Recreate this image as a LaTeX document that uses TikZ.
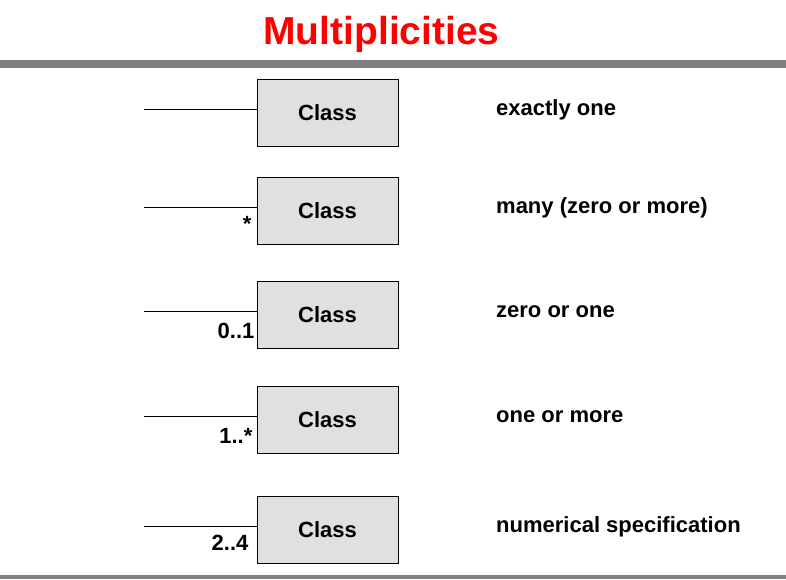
\documentclass[tikz,border=0pt]{standalone}
\usepackage{xcolor}
\usepackage{fontspec}
\setmainfont{Liberation Sans}
\usepackage{tikz}
\usetikzlibrary{positioning,calc}
\definecolor{TitleRed}{HTML}{FF0000}
\definecolor{RuleGray}{HTML}{808080}
\definecolor{ClassFill}{HTML}{DFE0DF}

\tikzset{
  classbox/.style={draw=black, line width=0.8pt, fill=ClassFill,
    minimum width=141pt, minimum height=67pt, inner sep=0pt,
    font=\fontsize{22}{26}\selectfont\bfseries},
  multlabel/.style={anchor=base east, inner sep=0pt,
    font=\fontsize{22}{26}\selectfont\bfseries},
  desc/.style={anchor=base west, inner sep=0pt,
    font=\fontsize{22}{26}\selectfont\bfseries},
  assoc/.style={draw=black, line width=0.8pt}
}

\begin{document}
\begin{tikzpicture}[x=1pt, y=-1pt]
  \useasboundingbox (0,0) rectangle (786,579);

  % title and rules
  \node[anchor=base, inner sep=0pt, text=TitleRed,
    font=\fontsize{39}{44}\selectfont\bfseries] (title) at (381.5,44) {Multiplicities};
  \fill[RuleGray] (0,60) rectangle (786,68);
  \fill[RuleGray] (0,575) rectangle (786,579);

  % classes
  \node[classbox] (c1) at (327.5,112.5) {Class};
  \node[classbox] (c2) at (327.5,210.5) {Class};
  \node[classbox] (c3) at (327.5,315.0) {Class};
  \node[classbox] (c4) at (327.5,420.0) {Class};
  \node[classbox] (c5) at (327.5,529.5) {Class};

  % association ends
  \coordinate (e1) at (144,109);
  \coordinate (e2) at (144,207);
  \coordinate (e3) at (144,311.5);
  \coordinate (e4) at (144,416.5);
  \coordinate (e5) at (144,526);
  \foreach \i in {1,...,5}
    \draw[assoc] (e\i) -- (e\i -| c\i.west);

  % multiplicities
  \node[multlabel] (m2) at ($(e2 -| c2.west)+(-5,24)$) {*};
  \node[multlabel] (m3) at ($(e3 -| c3.west)+(-2,26.5)$) {0..1};
  \node[multlabel] (m4) at ($(e4 -| c4.west)+(-4,26.5)$) {1..*};
  \node[multlabel] (m5) at ($(e5 -| c5.west)+(-8,24.5)$) {2..4};

  % meanings
  \node[desc] (d1) at ($(c1.center)+(168.5,2.5)$) {exactly one};
  \node[desc] (d2) at ($(c2.center)+(168.5,2.5)$) {many (zero or more)};
  \node[desc] (d3) at ($(c3.center)+(168.5,2.5)$) {zero or one};
  \node[desc] (d4) at ($(c4.center)+(168.5,2.5)$) {one or more};
  \node[desc] (d5) at ($(c5.center)+(168.5,2.5)$) {numerical specification};
\end{tikzpicture}
\end{document}
